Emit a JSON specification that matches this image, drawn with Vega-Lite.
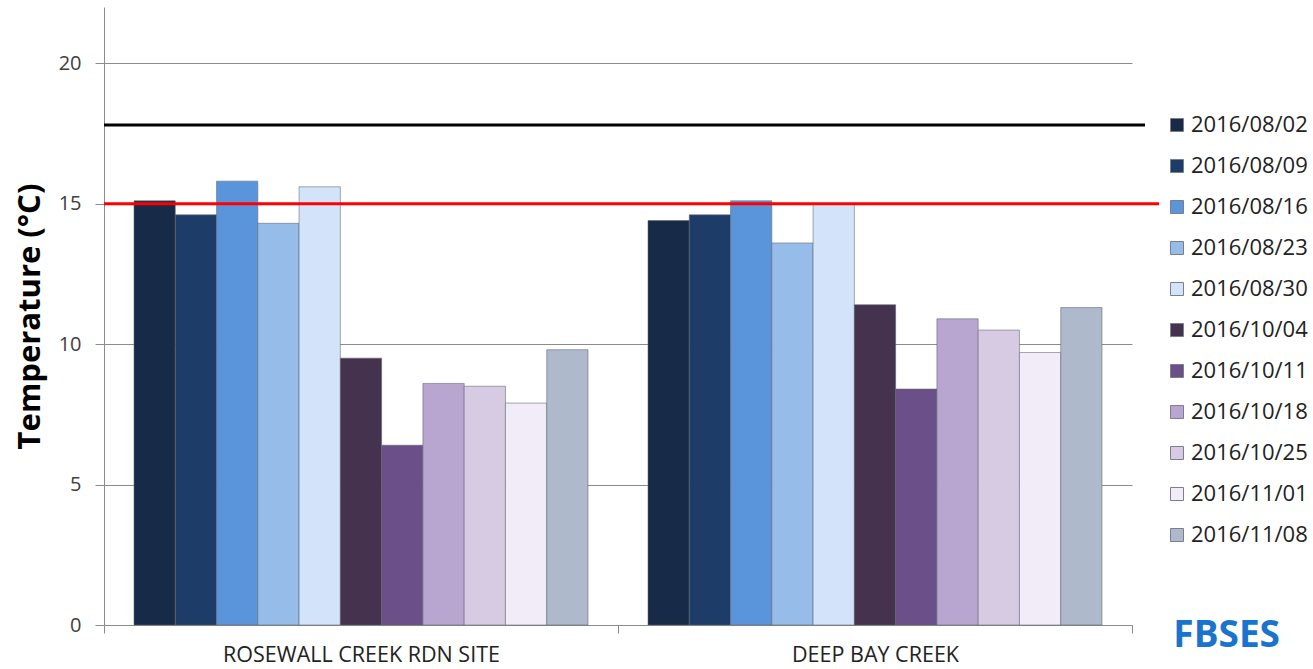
{
  "$schema": "https://vega.github.io/schema/vega-lite/v6.json",
  "autosize": "none",
  "width": 1028,
  "height": 618,
  "padding": {"left": 104, "top": 7, "right": 181, "bottom": 44},
  "background": "white",
  "config": {
    "font": "Open Sans",
    "view": {"stroke": null}
  },
  "title": {
    "text": "FBSES",
    "orient": "bottom",
    "anchor": "end",
    "frame": "group",
    "font": "Open Sans",
    "fontSize": 37,
    "fontWeight": "bold",
    "color": "#1a73cc",
    "dx": 148,
    "dy": -52
  },
  "datasets": {
    "temps": [
      {"site": "ROSEWALL CREEK RDN SITE", "date": "2016/08/02", "temp": 15.1},
      {"site": "ROSEWALL CREEK RDN SITE", "date": "2016/08/09", "temp": 14.6},
      {"site": "ROSEWALL CREEK RDN SITE", "date": "2016/08/16", "temp": 15.8},
      {"site": "ROSEWALL CREEK RDN SITE", "date": "2016/08/23", "temp": 14.3},
      {"site": "ROSEWALL CREEK RDN SITE", "date": "2016/08/30", "temp": 15.6},
      {"site": "ROSEWALL CREEK RDN SITE", "date": "2016/10/04", "temp": 9.5},
      {"site": "ROSEWALL CREEK RDN SITE", "date": "2016/10/11", "temp": 6.4},
      {"site": "ROSEWALL CREEK RDN SITE", "date": "2016/10/18", "temp": 8.6},
      {"site": "ROSEWALL CREEK RDN SITE", "date": "2016/10/25", "temp": 8.5},
      {"site": "ROSEWALL CREEK RDN SITE", "date": "2016/11/01", "temp": 7.9},
      {"site": "ROSEWALL CREEK RDN SITE", "date": "2016/11/08", "temp": 9.8},
      {"site": "DEEP BAY CREEK", "date": "2016/08/02", "temp": 14.4},
      {"site": "DEEP BAY CREEK", "date": "2016/08/09", "temp": 14.6},
      {"site": "DEEP BAY CREEK", "date": "2016/08/16", "temp": 15.1},
      {"site": "DEEP BAY CREEK", "date": "2016/08/23", "temp": 13.6},
      {"site": "DEEP BAY CREEK", "date": "2016/08/30", "temp": 15.0},
      {"site": "DEEP BAY CREEK", "date": "2016/10/04", "temp": 11.4},
      {"site": "DEEP BAY CREEK", "date": "2016/10/11", "temp": 8.4},
      {"site": "DEEP BAY CREEK", "date": "2016/10/18", "temp": 10.9},
      {"site": "DEEP BAY CREEK", "date": "2016/10/25", "temp": 10.5},
      {"site": "DEEP BAY CREEK", "date": "2016/11/01", "temp": 9.7},
      {"site": "DEEP BAY CREEK", "date": "2016/11/08", "temp": 11.3}
    ],
    "limits": [
      {"name": "upper", "value": 17.8},
      {"name": "lower", "value": 15.0}
    ]
  },
  "layer": [
    {
      "data": {"name": "temps"},
      "mark": {"type": "bar", "stroke": "#5f6470", "strokeOpacity": 0.55, "strokeWidth": 1},
      "encoding": {
        "x": {
          "field": "site",
          "type": "nominal",
          "sort": null,
          "scale": {"paddingInner": 0, "paddingOuter": 0},
          "axis": {
            "title": null,
            "labelAngle": 0,
            "labelLimit": 0,
            "labelFont": "Open Sans",
            "labelFontSize": 21.5,
            "labelColor": "#222222",
            "labelPadding": 11,
            "tickBand": "extent",
            "tickSize": 8,
            "tickColor": "#8c8c8c",
            "domainColor": "#8c8c8c",
            "grid": false
          }
        },
        "xOffset": {
          "field": "date",
          "type": "nominal",
          "scale": {"paddingInner": 0, "paddingOuter": 0.727}
        },
        "y": {
          "field": "temp",
          "type": "quantitative",
          "scale": {"domain": [0, 22], "nice": false},
          "axis": {
            "title": "Temperature (°C)",
            "titleFont": "Open Sans",
            "titleFontSize": 31,
            "titleFontWeight": "bold",
            "titleColor": "#000000",
            "titlePadding": 12,
            "values": [0, 5, 10, 15, 20],
            "labelFont": "Open Sans",
            "labelFontSize": 20,
            "labelColor": "#404040",
            "labelPadding": 14,
            "tickSize": 9,
            "tickColor": "#8c8c8c",
            "domainColor": "#8c8c8c",
            "grid": true,
            "gridColor": "#8c8c8c",
            "gridWidth": 1
          }
        },
        "color": {
          "field": "date",
          "type": "nominal",
          "scale": {
            "range": ["#172a48", "#1e3c68", "#5a95dc", "#96bde9", "#d3e4fa", "#45324f", "#6a4f89", "#b8a5d0", "#d7cbe3", "#f1ecf7", "#aeb9cc"]
          },
          "legend": {
            "title": null,
            "orient": "none",
            "legendX": 1062,
            "legendY": 107,
            "symbolType": "square",
            "symbolSize": 169,
            "symbolStrokeColor": "#7a7f8a",
            "symbolStrokeWidth": 1,
            "labelFont": "Open Sans",
            "labelFontSize": 22,
            "labelColor": "#222222",
            "labelOffset": 3,
            "rowPadding": 19
          }
        }
      }
    },
    {
      "data": {"name": "limits"},
      "transform": [{"filter": "datum.name === 'upper'"}],
      "mark": {"type": "rule", "color": "#000000", "strokeWidth": 3, "xOffset": 13, "clip": false},
      "encoding": {"y": {"field": "value", "type": "quantitative"}}
    },
    {
      "data": {"name": "limits"},
      "transform": [{"filter": "datum.name === 'lower'"}],
      "mark": {"type": "rule", "color": "#ff0000", "strokeWidth": 3, "xOffset": 27, "clip": false},
      "encoding": {"y": {"field": "value", "type": "quantitative"}}
    }
  ]
}
